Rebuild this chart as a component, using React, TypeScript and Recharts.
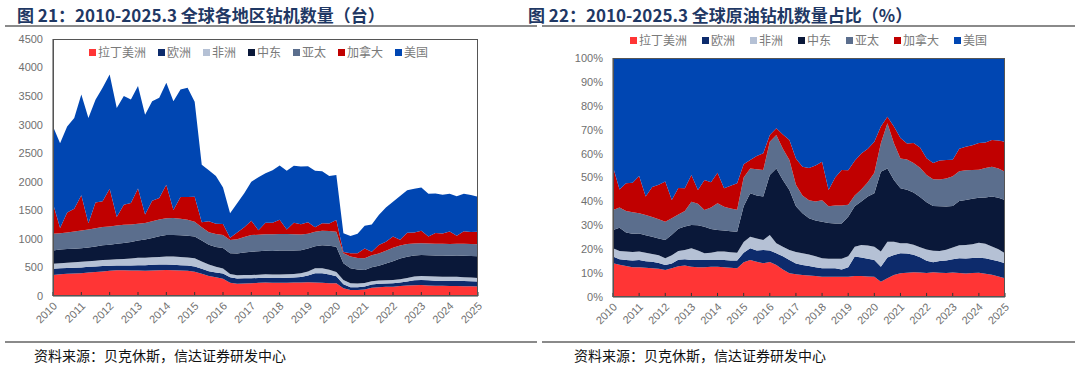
import React from "react";
import { Area, AreaChart, ReferenceLine, XAxis, YAxis } from "recharts";

const YEARS = [2010, 2011, 2012, 2013, 2014, 2015, 2016, 2017, 2018, 2019, 2020, 2021, 2022, 2023, 2024, 2025];
// quarterly categories, 2010Q1 .. 2025Q1
const QUARTERS = YEARS.flatMap((y) => ["Q1", "Q2", "Q3", "Q4"].map((q) => `${y}${q}`)).slice(0, 61);
const YEAR_TICKS = YEARS.map((y) => `${y}Q1`);

const SERIES = [
  { key: "latam", name: "拉丁美洲", color: "#FF3535" },
  { key: "europe", name: "欧洲", color: "#0D2B6C" },
  { key: "africa", name: "非洲", color: "#B5C1D5" },
  { key: "mideast", name: "中东", color: "#0A1839" },
  { key: "apac", name: "亚太", color: "#5B6E8D" },
  { key: "canada", name: "加拿大", color: "#C00000" },
  { key: "us", name: "美国", color: "#0046B2" },
];

// 图21 钻机数量（台）
const RIG_LATAM = [
  367, 380, 390, 395, 400, 410, 420, 430, 440, 450, 450, 445, 445, 440, 445, 450,
  455, 450, 445, 440, 425, 390, 350, 330, 300, 233, 215, 220, 222, 230, 235, 230,
  230, 232, 235, 238, 240, 235, 230, 225, 222, 134, 105, 105, 116, 146, 155, 160,
  163, 175, 185, 190, 192, 185, 180, 178, 175, 175, 172, 170, 168,
];
const RIG_EUROPE = [
  110, 105, 100, 100, 100, 100, 95, 95, 90, 85, 85, 90, 95, 100, 100, 100,
  95, 95, 95, 95, 90, 85, 85, 80, 95, 94, 92, 90, 88, 85, 85, 85,
  85, 88, 90, 95, 120, 165, 170, 150, 122, 70, 50, 47, 50, 55, 58, 60,
  59, 60, 70, 85, 88, 90, 88, 88, 90, 90, 90, 88, 88,
];
const RIG_AFRICA = [
  88, 90, 92, 95, 100, 100, 102, 105, 105, 110, 115, 120, 130, 128, 132, 135,
  140, 145, 142, 140, 145, 130, 115, 100, 85, 58, 55, 57, 58, 58, 60, 60,
  60, 60, 62, 65, 70, 85, 88, 85, 76, 76, 70, 65, 60, 58, 57, 57,
  58, 60, 62, 65, 70, 70, 72, 72, 70, 70, 68, 65, 60,
];
const RIG_MIDEAST = [
  233, 240, 240, 238, 235, 240, 250, 258, 263, 270, 278, 290, 303, 320, 340, 360,
  377, 380, 382, 380, 380, 365, 348, 350, 360, 362, 380, 395, 408, 410, 412, 415,
  420, 415, 410, 405, 400, 388, 400, 420, 444, 292, 263, 245, 230, 245, 260, 290,
  330, 360, 370, 368, 368, 370, 370, 370, 370, 372, 375, 378, 380,
];
const RIG_APAC = [
  290, 285, 290, 300, 310, 315, 320, 320, 320, 320, 318, 305, 290, 290, 292, 293,
  293, 295, 290, 280, 260, 233, 220, 225, 230, 233, 250, 270, 292, 290, 290, 292,
  292, 290, 285, 275, 260, 250, 255, 260, 262, 175, 205, 205, 205, 210, 215, 225,
  233, 230, 222, 212, 204, 205, 205, 206, 206, 208, 210, 210, 210,
];
const RIG_CANADA = [
  530, 90, 350, 400, 620, 110, 450, 450, 660, 150, 350, 380, 620, 150, 360, 380,
  590, 140, 380, 400, 440, 90, 190, 180, 190, 40, 120, 170, 250, 80, 200, 200,
  250, 80, 200, 180, 200, 80, 130, 130, 204, 25, 57, 80, 170, 60, 150, 160,
  200, 100, 200, 190, 220, 120, 190, 180, 220, 140, 220, 210, 220,
];
const RIG_US = [
  1352, 1485, 1508, 1587, 1765, 1840, 1800, 1987, 2002, 1905, 1904, 1810, 1792, 1747, 1741, 1752,
  1785, 1905, 1881, 1910, 1660, 1007, 892, 835, 640, 430, 513, 598, 682, 927, 868, 918,
  950, 1030, 1000, 1010, 980, 990, 910, 830, 790, 328, 300, 343, 400, 480, 525, 598,
  607, 765, 741, 770, 758, 750, 690, 680, 660, 690, 655, 649, 614,
];

// 图22 原油钻机占比（%）
const OIL_LATAM = [
  14.1, 13.5, 13, 12.5, 12.5, 12.2, 12, 11.8, 11.3, 12, 13, 13.2, 12.7, 12.5, 12.5, 12.7,
  12.7, 12.5, 12.2, 12, 14.5, 15.5, 14.8, 14.1, 14.6, 13.4, 11.5, 9.9, 9.5, 9.2, 9, 8.8,
  8.5, 8.5, 8.5, 8.5, 8.5, 8.8, 8.8, 8.6, 8.5, 6.4, 7.8, 9.2, 9.9, 10.2, 10.4, 10.3,
  10.1, 10.4, 10.2, 10, 10.3, 10.1, 9.8, 10, 10.2, 9.8, 9.3, 8.6, 7.8,
];
const OIL_EUROPE = [
  2.8, 2.3, 2.5, 2.8, 3, 2.8, 2.8, 2.4, 2.1, 2, 2.8, 2.6, 2.8, 3, 3, 2.8,
  2.8, 3, 3.1, 3.3, 4, 4.9, 4.7, 5.6, 4.9, 4.9, 5.5, 5.6, 4.5, 4.2, 4, 3.7,
  3.5, 3.5, 3.5, 3, 4, 8.1, 7.7, 7.4, 7, 6.3, 8.7, 8.4, 8.4, 8.1, 7.4, 6.3,
  5.1, 4.2, 4.9, 5.3, 5.6, 6.1, 6.3, 6.3, 6.3, 6.5, 6.3, 6.4, 6.3,
];
const OIL_AFRICA = [
  3.5, 3.4, 3.5, 3.5, 3.5, 3.5, 3.2, 3.3, 2.8, 3.5, 3.7, 3.9, 4.9, 4, 2.8, 3,
  3.5, 3.5, 3.4, 3.2, 4.5, 4.8, 5, 4.1, 6.4, 4.2, 4, 4.2, 4.8, 4.9, 4.8, 4.5,
  4.2, 4, 4, 4.5, 4.5, 4.1, 5.3, 5.5, 5.5, 6.3, 6.6, 5.5, 4.2, 4.3, 4.2, 4.2,
  4.7, 4.9, 4.2, 4.5, 4.9, 5.5, 5.6, 5.8, 6.3, 6, 5.5, 5, 4.2,
];
const OIL_MIDEAST = [
  7.6, 9.8, 8, 7.7, 7.6, 7.3, 7.2, 7, 7.6, 8.5, 9.5, 9.8, 9.7, 10.5, 11.1, 10,
  9, 8.8, 8.8, 8.8, 15, 18.2, 18, 18.2, 25.1, 31.3, 28, 25.1, 19.2, 16.7, 15.2, 15,
  15.3, 15, 14.8, 14.8, 16.6, 17, 18.2, 20.5, 22.4, 33.4, 30.7, 25.9, 23, 22.5, 21.9, 21.1,
  19.8, 18.8, 18.8, 18.1, 17.4, 18.5, 18.8, 19, 18.8, 19.5, 21, 21.5, 22.3,
];
const OIL_APAC = [
  8.4, 8.5, 9, 9, 8.4, 8.5, 8.3, 8, 7.7, 7, 6, 6.5, 9.8, 9, 7, 9,
  11.2, 10, 9.5, 9.2, 12, 10.4, 11, 11.1, 14, 14, 13, 12.5, 9, 7.5, 7.5, 8,
  9, 7, 7.5, 7.5, 5, 4.5, 5, 6, 8.6, 11.9, 18.9, 15.3, 12.5, 12.8, 12.5, 12.2,
  11.5, 11.2, 11.2, 11.7, 12.5, 12.5, 12.5, 12.1, 11.8, 12.3, 12.5, 12.3, 11.8,
];
const OIL_CANADA = [
  18.1, 7.5, 11.6, 12.3, 15.6, 7.7, 12.5, 14.5, 16.8, 7.6, 11.2, 9.5, 11.1, 5.8, 12.6, 10.5,
  12.8, 7.7, 9.5, 11.1, 5.5, 3.5, 5.5, 7, 2.8, 2.8, 6, 8.4, 11, 12, 13.5, 15,
  16.1, 6.8, 11.7, 14.8, 14.4, 14.5, 15, 14, 13, 7, 2.7, 7, 8.5, 6.7, 8.4, 8.5,
  7, 6.9, 8, 7.8, 7, 9.5, 9.8, 10.4, 11.2, 10.7, 11.2, 11.7, 12.6,
];
const OIL_US = [
  45.5, 55, 52.4, 52.2, 49.4, 58, 54, 53, 51.7, 59.4, 55.2, 54.5, 49, 55.2, 51, 52,
  48, 54.5, 53.5, 52.4, 44.5, 42.7, 41, 39.9, 32.2, 29.4, 32, 34.3, 42, 45.5, 46, 45,
  43.4, 55.2, 50, 46.9, 47, 43, 40, 38, 35, 28.7, 24.6, 28.7, 33.5, 36, 35.7, 37.5,
  42, 44.1, 43, 42.7, 42.7, 38, 37.1, 36.5, 35.7, 35.5, 34.3, 34.5, 35,
];

const RIG_TICKS = [0, 500, 1000, 1500, 2000, 2500, 3000, 3500, 4000, 4500];
const PCT_TICKS = [0, 0.1, 0.2, 0.3, 0.4, 0.5, 0.6, 0.7, 0.8, 0.9, 1];

const buildRows = (cols: number[][]) =>
  QUARTERS.map((q, i) => {
    const row: Record<string, string | number> = { q };
    SERIES.forEach((s, k) => (row[s.key] = cols[k][i]));
    return row;
  });

const rigData = buildRows([RIG_LATAM, RIG_EUROPE, RIG_AFRICA, RIG_MIDEAST, RIG_APAC, RIG_CANADA, RIG_US]);
const oilData = buildRows([OIL_LATAM, OIL_EUROPE, OIL_AFRICA, OIL_MIDEAST, OIL_APAC, OIL_CANADA, OIL_US]);

const SANS = "'Liberation Sans', Arial, 'Noto Sans CJK SC', sans-serif";
const CJK = "'Noto Sans CJK SC', sans-serif";
const AXIS_GREY = "#6f6f6f";

function YearTick(props: any) {
  const { x, y, payload } = props;
  return (
    <g transform={`translate(${x + 2},${y})`}>
      <text x={0} y={0} dy="0.35em" textAnchor="end" transform="rotate(-45)" fontSize={11} fill={AXIS_GREY} fontFamily={SANS}>
        {String(payload.value).slice(0, 4)}
      </text>
    </g>
  );
}

function LegendRow({ left, top, gap }: { left: number; top: number; gap: number }) {
  return (
    <div style={{ position: "absolute", left, top, display: "flex", gap, fontFamily: CJK, fontSize: 12, color: "#7a7a7a", lineHeight: "14px", whiteSpace: "nowrap" }}>
      {SERIES.map((s) => (
        <div key={s.key} style={{ display: "flex", alignItems: "center" }}>
          <span style={{ width: 7, height: 7, background: s.color, marginRight: 2, display: "inline-block" }} />
          {s.name}
        </div>
      ))}
    </div>
  );
}

function stackedAreas() {
  return SERIES.map((s) => (
    <Area key={s.key} type="linear" dataKey={s.key} name={s.name} stackId="1" stroke="none" fill={s.color} fillOpacity={1} isAnimationActive={false} />
  ));
}

// 横轴内向刻度，画在面积之上
function innerTicks(len: number) {
  return YEAR_TICKS.map((t) => (
    <ReferenceLine key={t} segment={[{ x: t, y: 0 }, { x: t, y: len }]} stroke="#333" strokeWidth={1} ifOverflow="visible" />
  ));
}

const titleStyle: React.CSSProperties = {
  position: "absolute",
  top: 4,
  fontFamily: CJK,
  fontWeight: 700,
  fontSize: 17,
  color: "#1F3864",
  whiteSpace: "nowrap",
  lineHeight: "22px",
};
const noteStyle: React.CSSProperties = {
  position: "absolute",
  top: 346,
  fontFamily: CJK,
  fontSize: 14,
  color: "#111",
  whiteSpace: "nowrap",
  lineHeight: "18px",
};
const rule = (left: number, top: number, width: number): React.CSSProperties => ({
  position: "absolute",
  left,
  top,
  width,
  height: 2,
  background: "#8a8a8a",
});

export default function App() {
  return (
    <div style={{ position: "absolute", left: 0, top: 0, width: 1080, height: 376, background: "#fff", overflow: "hidden" }}>
      <div style={{ ...titleStyle, left: 17 }}>图 21：2010-2025.3 全球各地区钻机数量（台）</div>
      <div style={{ ...titleStyle, left: 528 }}>图 22：2010-2025.3 全球原油钻机数量占比（%）</div>
      <div style={rule(5, 25, 532)} />
      <div style={rule(542, 25, 533)} />

      {/* 左图 */}
      <div style={{ position: "absolute", left: 0, top: 30 }}>
        <AreaChart width={490} height={310} data={rigData} margin={{ top: 9, right: 12, left: 0, bottom: 0 }}>
          <XAxis dataKey="q" ticks={YEAR_TICKS} interval={0} height={44} tickSize={0} tickMargin={8}
            axisLine={{ stroke: "#404040" }} tickLine={false} tick={(p: any) => <YearTick {...p} />} />
          <YAxis domain={[0, 4500]} ticks={RIG_TICKS} width={53} tickSize={0} tickMargin={10} tickLine={false}
            axisLine={{ stroke: "#404040" }} tick={{ fontSize: 11, fill: AXIS_GREY, fontFamily: SANS }} />
          {stackedAreas()}
          {innerTicks(70)}
        </AreaChart>
      </div>
      <div style={{ position: "absolute", left: 53, top: 39, width: 425, height: 257, border: "1px solid #555", boxSizing: "border-box", pointerEvents: "none" }} />
      <LegendRow left={89} top={45} gap={12} />

      {/* 右图 */}
      <div style={{ position: "absolute", left: 540, top: 30 }}>
        <AreaChart width={480} height={310} data={oilData} stackOffset="expand" margin={{ top: 28, right: 15, left: 0, bottom: 0 }}>
          <XAxis dataKey="q" ticks={YEAR_TICKS} interval={0} height={43} tickSize={0} tickMargin={8}
            axisLine={{ stroke: "#404040" }} tickLine={false} tick={(p: any) => <YearTick {...p} />} />
          <YAxis domain={[0, 1]} ticks={PCT_TICKS} width={73} tickSize={0} tickMargin={10} tickLine={false}
            axisLine={{ stroke: "#404040" }} tickFormatter={(v: number) => `${Math.round(v * 100)}%`}
            tick={{ fontSize: 11, fill: AXIS_GREY, fontFamily: SANS }} />
          {stackedAreas()}
          {innerTicks(0.017)}
        </AreaChart>
      </div>
      <div style={{ position: "absolute", left: 613, top: 58, width: 392, height: 239, border: "1px solid #555", boxSizing: "border-box", pointerEvents: "none" }} />
      <LegendRow left={630} top={33} gap={15} />

      <div style={rule(5, 341, 532)} />
      <div style={rule(542, 341, 533)} />
      <div style={{ ...noteStyle, left: 34 }}>资料来源：贝克休斯，信达证券研发中心</div>
      <div style={{ ...noteStyle, left: 574 }}>资料来源：贝克休斯，信达证券研发中心</div>
    </div>
  );
}
